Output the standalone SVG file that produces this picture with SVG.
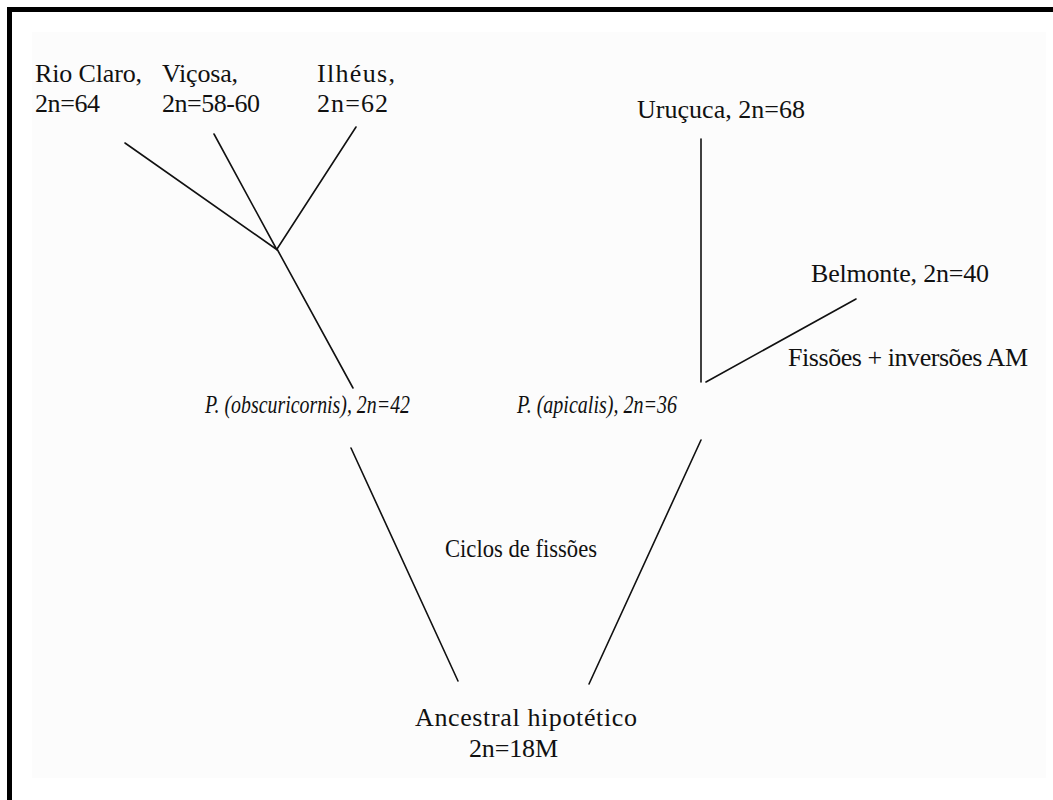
<svg xmlns="http://www.w3.org/2000/svg" width="1053" height="800" viewBox="0 0 1053 800">
<style>
.t{font-family:"Liberation Serif","Times New Roman",serif;font-size:26px;fill:#111}
.i{font-style:italic}
.e{stroke:#111;stroke-width:1.6;fill:none;stroke-linecap:round}
</style>
<rect x="0" y="0" width="1053" height="800" fill="#ffffff"/>
<rect x="32" y="32" width="1014" height="746" fill="#fcfcfc"/>
<path d="M9.5 800 V9.5 H1053" fill="none" stroke="#000" stroke-width="5"/>
<g id="connectors">
<line class="e" x1="125" y1="143" x2="276" y2="249"/>
<line class="e" x1="214" y1="134" x2="277" y2="250"/>
<line class="e" x1="356" y1="127" x2="277" y2="249"/>
<line class="e" x1="277" y1="249" x2="353" y2="388"/>
<line class="e" x1="701" y1="139" x2="701" y2="382"/>
<line class="e" x1="706" y1="382" x2="856" y2="299"/>
<line class="e" x1="351" y1="448" x2="458" y2="681"/>
<line class="e" x1="701" y1="440" x2="589" y2="684"/>
</g>
<g id="rioclaro"><text class="t" x="35" y="82" textLength="107">Rio Claro,</text><text class="t" x="35" y="112" textLength="65">2n=64</text></g>
<g id="vicosa"><text class="t" x="162" y="82" textLength="76">Viçosa,</text><text class="t" x="162" y="112" textLength="98">2n=58-60</text></g>
<g id="ilheus"><text class="t" x="317" y="82" textLength="78">Ilhéus,</text><text class="t" x="317" y="112" textLength="71">2n=62</text></g>
<g id="urucuca"><text class="t" x="637" y="118" textLength="168">Uruçuca, 2n=68</text></g>
<g id="belmonte"><text class="t" x="811" y="282" textLength="178">Belmonte, 2n=40</text></g>
<g id="fissoes"><text class="t" x="788" y="366" textLength="240">Fissões + inversões AM</text></g>
<g id="obscuricornis"><text class="t i" x="205" y="413" textLength="205" lengthAdjust="spacingAndGlyphs">P. (obscuricornis), 2n=42</text></g>
<g id="apicalis"><text class="t i" x="517" y="413" textLength="160" lengthAdjust="spacingAndGlyphs">P. (apicalis), 2n=36</text></g>
<g id="ciclos"><text class="t" x="445" y="557" textLength="152" lengthAdjust="spacingAndGlyphs">Ciclos de fissões</text></g>
<g id="ancestral"><text class="t" x="415" y="726" textLength="222">Ancestral hipotético</text><text class="t" x="469" y="757" textLength="89">2n=18M</text></g>
</svg>
